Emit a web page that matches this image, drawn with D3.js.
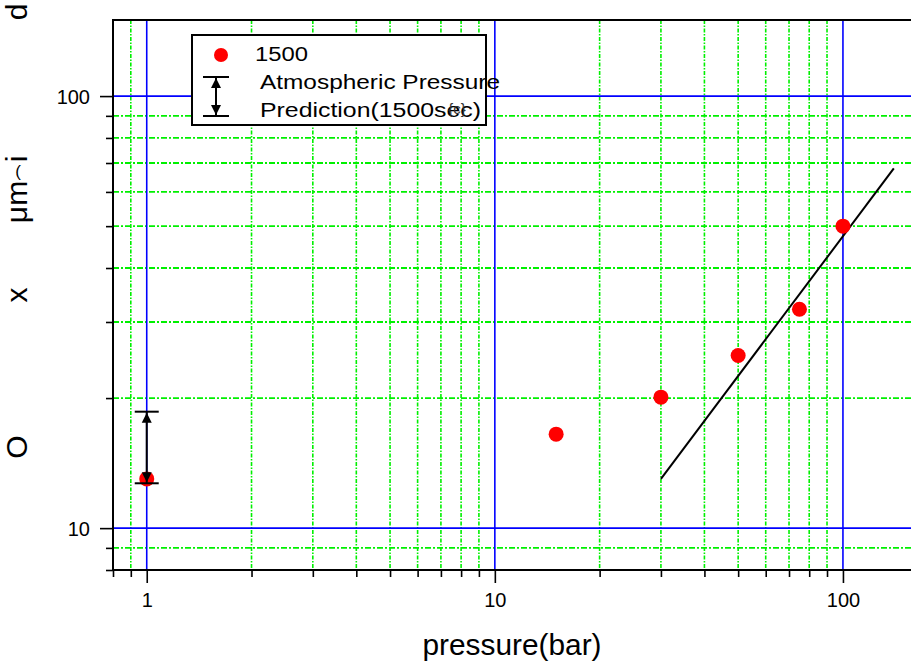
<!DOCTYPE html>
<html>
<head>
<meta charset="utf-8">
<script src="https://cdn.jsdelivr.net/npm/d3@7"></script>
<style>
  html, body { margin: 0; padding: 0; background: #fff; overflow: hidden; }
  svg { display: block; font-family: "Liberation Sans", Arial, Helvetica, sans-serif; }
</style>
</head>
<body>
<svg id="chart" width="911" height="665"></svg>
<script>
// Oxide thickness measured after 1500 s at each pressure
const pressure = [1, 15, 30, 50, 75, 100];
const oxide = [13.0, 16.5, 20.1, 25.1, 32.1, 50.0];

// Atmospheric-pressure range at 1 bar
const atmPressure = 1;
const atmRange = [12.7, 18.6];

// Prediction line for 1500 s
const predPressure = [30, 140];
const predOxide = [13.0, 68.0];

// Axis ticks
const xMajorTicks = [1, 10, 100];
const xMinorTicks = [0.8, 0.9, 2, 3, 4, 5, 6, 7, 8, 9, 20, 30, 40, 50, 60, 70, 80, 90];
const yMajorTicks = [10, 100];
const yMinorTicks = [8, 9, 20, 30, 40, 50, 60, 70, 80, 90];

// Text
const xTitle = "pressure(bar)";
const yTitleParts = ["O", "x", "μm", "(", "i", "d"];
const legendLabels = ["1500", "Atmospheric Pressure", "Prediction(1500sec)"];
const legendUnit = "{c}";

const svg = d3.select("#chart");
const plot = { left: 113, top: 20, right: 914, bottom: 570 };

const x = d3.scaleLog().domain([0.8, 160]).range([plot.left, plot.right]);
const y = d3.scaleLog().domain([8, 150]).range([plot.bottom, plot.top]);

svg.append("defs").append("clipPath").attr("id", "plotClip")
  .append("rect")
  .attr("x", plot.left).attr("y", plot.top)
  .attr("width", plot.right - plot.left).attr("height", plot.bottom - plot.top);

// ---- grid ----
const grid = svg.append("g").attr("clip-path", "url(#plotClip)");
const green = "#00f000";

grid.selectAll("line.gx")
  .data(xMinorTicks.filter(d => d > x.domain()[0]))
  .join("line").attr("class", "gx")
  .attr("x1", d => x(d)).attr("x2", d => x(d))
  .attr("y1", plot.top).attr("y2", plot.bottom)
  .attr("stroke", green).attr("stroke-width", 1.6)
  .attr("stroke-dasharray", "4,1.5,1.5,1.5");

grid.selectAll("line.gy")
  .data(yMinorTicks.filter(d => d > y.domain()[0]))
  .join("line").attr("class", "gy")
  .attr("x1", plot.left).attr("x2", plot.right)
  .attr("y1", d => y(d)).attr("y2", d => y(d))
  .attr("stroke", green).attr("stroke-width", 1.8)
  .attr("stroke-dasharray", "6,2,2,2");

grid.selectAll("line.bx")
  .data(xMajorTicks)
  .join("line").attr("class", "bx")
  .attr("x1", d => x(d)).attr("x2", d => x(d))
  .attr("y1", plot.top).attr("y2", plot.bottom)
  .attr("stroke", "#0000ff").attr("stroke-width", 1.6);

grid.selectAll("line.by")
  .data(yMajorTicks)
  .join("line").attr("class", "by")
  .attr("x1", plot.left).attr("x2", plot.right)
  .attr("y1", d => y(d)).attr("y2", d => y(d))
  .attr("stroke", "#0000ff").attr("stroke-width", 1.6);

// ---- axes ----
function styleAxis(g) {
  g.select(".domain").remove();
  g.selectAll(".tick line").attr("stroke", "#000").attr("stroke-width", 1.6);
  g.selectAll(".tick text").attr("fill", "#000").attr("font-size", 20)
    .attr("font-family", "\"Liberation Sans\", Arial, sans-serif");
}

svg.append("g").attr("transform", `translate(0,${plot.bottom})`)
  .call(d3.axisBottom(x).tickValues(xMinorTicks).tickSize(7).tickFormat(""))
  .call(styleAxis);
svg.append("g").attr("transform", `translate(0,${plot.bottom})`)
  .call(d3.axisBottom(x).tickValues(xMajorTicks).tickSize(13).tickPadding(10).tickFormat(d3.format("d")))
  .call(styleAxis);

svg.append("g").attr("transform", `translate(${plot.left},0)`)
  .call(d3.axisLeft(y).tickValues(yMinorTicks).tickSize(7).tickFormat(""))
  .call(styleAxis);
svg.append("g").attr("transform", `translate(${plot.left},0)`)
  .call(d3.axisLeft(y).tickValues(yMajorTicks).tickSize(13).tickPadding(10).tickFormat(d3.format("d")))
  .call(styleAxis)
  .call(g => g.selectAll(".tick text").attr("dy", "0.37em"));

// frame
svg.append("rect")
  .attr("x", plot.left).attr("y", plot.top)
  .attr("width", plot.right - plot.left).attr("height", plot.bottom - plot.top)
  .attr("fill", "none").attr("stroke", "#000").attr("stroke-width", 2);

// ---- axis titles ----
svg.append("text")
  .attr("x", 512).attr("y", 655)
  .attr("text-anchor", "middle").attr("font-size", 30)
  .attr("textLength", 179).attr("lengthAdjust", "spacingAndGlyphs")
  .text(xTitle);

// vertical title, drawn piece by piece
const yTitleLayout = [
  { cy: 447, rot: true, size: 30 },
  { cy: 295, rot: true, size: 30 },
  { cy: 202, rot: true, size: 30 },
  { cy: 171, rot: false, size: 17 },
  { cy: 159, rot: true, size: 30 },
  { cy: 12, rot: true, size: 30 }
];
const yTitle = svg.append("g");
yTitleParts.forEach((t, i) => {
  const L = yTitleLayout[i];
  const el = yTitle.append("text").attr("text-anchor", "middle").attr("font-size", L.size).text(t);
  if (L.rot) el.attr("transform", `translate(27,${L.cy}) rotate(-90)`);
  else el.attr("x", 18).attr("y", L.cy + 6);
});

// ---- marks ----
const predLine = d3.line().x(d => x(d[0])).y(d => y(d[1]));
svg.append("path")
  .datum(predPressure.map((p, i) => [p, predOxide[i]]))
  .attr("d", predLine)
  .attr("fill", "none").attr("stroke", "#000").attr("stroke-width", 2);

svg.append("g").selectAll("circle")
  .data(pressure.map((p, i) => [p, oxide[i]]))
  .join("circle")
  .attr("cx", d => x(d[0])).attr("cy", d => y(d[1])).attr("r", 7.5)
  .attr("fill", "#ff0000");

// double-headed bar with caps
function rangeBar(g, cx, yTop, yBot, capHalf) {
  g.append("line").attr("x1", cx).attr("x2", cx).attr("y1", yTop).attr("y2", yBot)
    .attr("stroke", "#000").attr("stroke-width", 2);
  [yTop, yBot].forEach(yy => {
    g.append("line").attr("x1", cx - capHalf).attr("x2", cx + capHalf).attr("y1", yy).attr("y2", yy)
      .attr("stroke", "#000").attr("stroke-width", 2);
  });
  const aw = 5, al = 11;
  g.append("path").attr("d", `M${cx},${yTop + 1} L${cx - aw},${yTop + al} L${cx + aw},${yTop + al} Z`).attr("fill", "#000");
  g.append("path").attr("d", `M${cx},${yBot - 1} L${cx - aw},${yBot - al} L${cx + aw},${yBot - al} Z`).attr("fill", "#000");
}
rangeBar(svg.append("g"), x(atmPressure), y(atmRange[1]), y(atmRange[0]), 12);

// ---- legend ----
const lg = svg.append("g");
lg.append("rect").attr("x", 192).attr("y", 35).attr("width", 294).attr("height", 90)
  .attr("fill", "#fff").attr("stroke", "#000").attr("stroke-width", 2);
lg.append("circle").attr("cx", 221).attr("cy", 55).attr("r", 7).attr("fill", "#ff0000");
rangeBar(lg.append("g"), 216, 77, 116, 13);

const legendLayout = [
  { x: 255, y: 61, w: 53 },
  { x: 260, y: 89, w: 240 },
  { x: 260, y: 117, w: 221 }
];
legendLabels.forEach((t, i) => {
  const L = legendLayout[i];
  lg.append("text").attr("x", L.x).attr("y", L.y).attr("font-size", 20)
    .attr("textLength", L.w).attr("lengthAdjust", "spacingAndGlyphs").text(t);
});
lg.append("text").attr("x", 457).attr("y", 114).attr("text-anchor", "middle")
  .attr("font-size", 15).attr("fill", "#333").text(legendUnit);
</script>
</body>
</html>
